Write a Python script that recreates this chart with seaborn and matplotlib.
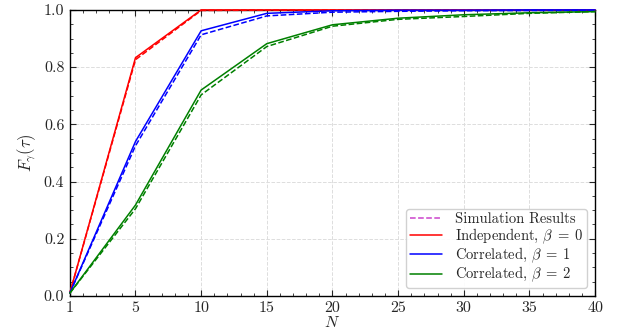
import matplotlib
matplotlib.use("Agg")
import matplotlib.pyplot as plt
import seaborn as sns
import pandas as pd
from matplotlib.lines import Line2D
from matplotlib.ticker import MultipleLocator

sns.set_style("ticks")
plt.rcParams.update({
    "font.family": "serif",
    "font.serif": ["cmr10"],
    "mathtext.fontset": "cm",
    "axes.formatter.use_mathtext": True,
    "axes.unicode_minus": False,
})

# data
x_pos = [0, 5, 10, 15, 20, 25, 30, 35, 40]
tick_labels = ["1", "5", "10", "15", "20", "25", "30", "35", "40"]

indep_theory = [0.01, 0.833, 1.0, 1.0, 1.0, 1.0, 1.0, 1.0, 1.0]
indep_sim    = [0.01, 0.826, 0.998, 0.999, 0.999, 0.999, 0.999, 0.999, 0.999]
corr1_theory = [0.01, 0.54, 0.927, 0.988, 0.997, 0.999, 0.999, 1.0, 1.0]
corr1_sim    = [0.01, 0.525, 0.913, 0.979, 0.992, 0.995, 0.997, 0.998, 0.998]
corr2_theory = [0.01, 0.318, 0.72, 0.882, 0.948, 0.971, 0.983, 0.990, 0.994]
corr2_sim    = [0.01, 0.305, 0.703, 0.872, 0.943, 0.967, 0.977, 0.988, 0.994]

fig = plt.figure(figsize=(6.18, 3.3), dpi=100)
ax = fig.add_axes([0.113, 0.103, 0.850, 0.867])

series = [
    (indep_theory, "#ff0000", "-"),
    (indep_sim, "#ff0000", "--"),
    (corr1_theory, "#0000ff", "-"),
    (corr1_sim, "#0000ff", "--"),
    (corr2_theory, "#008000", "-"),
    (corr2_sim, "#008000", "--"),
]
for vals, c, ls in series:
    df = pd.DataFrame({"x": x_pos, "y": vals})
    sns.lineplot(data=df, x="x", y="y", ax=ax, color=c, linestyle=ls, lw=1.1,
                 clip_on=False, zorder=3)

ax.set_xlim(0, 40)
ax.set_ylim(0, 1.0)
ax.set_xticks(x_pos)
ax.set_xticklabels(tick_labels)
ax.set_yticks([0, 0.2, 0.4, 0.6, 0.8, 1.0])
ax.set_yticklabels(["0.0", "0.2", "0.4", "0.6", "0.8", "1.0"])
ax.xaxis.set_minor_locator(MultipleLocator(1))
ax.yaxis.set_minor_locator(MultipleLocator(0.05))
ax.tick_params(which="both", direction="in", top=True, right=True, labelsize=11.5)
ax.tick_params(which="major", length=4, width=0.8, pad=4)
ax.tick_params(which="minor", length=2, width=0.6)
ax.grid(True, which="major", linestyle="--", color="#dddddd", lw=0.7)
for s in ax.spines.values():
    s.set_linewidth(1.0)
    s.set_color("black")

ax.set_xlabel(r"$N$", fontsize=11.5, labelpad=-0.5)
ax.set_ylabel(r"$F_\gamma(\tau)$", fontsize=12, labelpad=4)

handles = [
    Line2D([], [], color="#cc44cc", ls="--", lw=1.1),
    Line2D([], [], color="#ff0000", lw=1.1),
    Line2D([], [], color="#0000ff", lw=1.1),
    Line2D([], [], color="#008000", lw=1.1),
]
labels = ["Simulation Results", r"Independent, $\beta\;=\;0$",
          r"Correlated, $\beta\;=\;1$", r"Correlated, $\beta\;=\;2$"]
leg = ax.legend(handles, labels, loc="lower right", fontsize=10.5, frameon=True,
                fancybox=True, framealpha=0.9, edgecolor="#cccccc",
                borderpad=0.25, labelspacing=0.0, handlelength=2.2,
                handletextpad=0.9, borderaxespad=0.55)

fig.savefig("out.png", dpi=100)
